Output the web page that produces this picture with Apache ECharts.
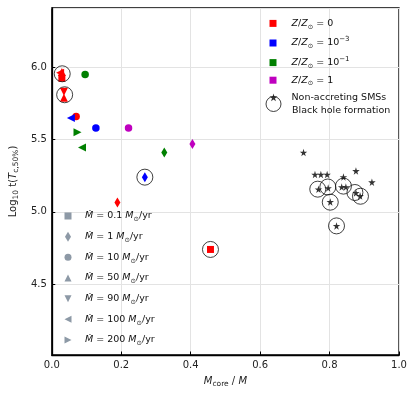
<!DOCTYPE html>
<html>
<head>
<meta charset="utf-8">
<script src="https://cdn.jsdelivr.net/npm/echarts@6/dist/echarts.min.js"></script>
<style>html,body{margin:0;padding:0;background:#fff}#c{width:415px;height:397px}</style>
</head>
<body>
<div id="c"></div>
<script>
// ---- data ----
// each point: [Mcore/M, log10 t, accretion-rate index]
const mdotLabels = ['0.1', '1', '10', '50', '90', '100', '200'];
const zLabels = ['0', '10⁻³', '10⁻¹', '1'];
const zeroMetal = [[0.457, 4.74, 0], [0.029, 5.924, 0], [0.189, 5.064, 1], [0.070, 5.66, 2],
                   [0.029, 5.968, 3], [0.035, 5.79, 3], [0.035, 5.83, 4], [0.024, 5.962, 5]];
const lowMetal = [[0.268, 5.24, 1], [0.127, 5.58, 2], [0.055, 5.65, 5]];
const midMetal = [[0.324, 5.41, 1], [0.096, 5.95, 2], [0.087, 5.445, 5], [0.074, 5.55, 6]];
const solarMetal = [[0.405, 5.47, 1], [0.221, 5.58, 2]];
const nonAccreting = [[0.725, 5.41], [0.758, 5.258], [0.775, 5.258], [0.793, 5.258], [0.840, 5.241],
                      [0.876, 5.283], [0.922, 5.205], [0.768, 5.156], [0.796, 5.165], [0.835, 5.172],
                      [0.847, 5.172], [0.876, 5.131], [0.888, 5.11], [0.802, 5.069], [0.820, 4.903]];
const bhFormation = [[0.030, 5.955], [0.037, 5.81], [0.268, 5.24], [0.457, 4.74], [0.766, 5.157],
                     [0.795, 5.172], [0.840, 5.178], [0.873, 5.134], [0.889, 5.108], [0.802, 5.067],
                     [0.820, 4.903]];
const xTicks = [0, 0.2, 0.4, 0.6, 0.8, 1.0];

// ---- styles ----
const FONT = 'DejaVu Sans';
const zColors = ['#ff0000', '#0000ff', '#008000', '#bf00bf'];
const legendGray = '#708090';
const SQ = 'path://M0,0L1,0L1,1L0,1Z';
const DIA = 'path://M3,0L6,5L3,10L0,5Z';
const UP = 'path://M1,0L2,2L0,2Z';
const DOWN = 'path://M0,0L2,0L1,2Z';
const LEFT = 'path://M0,1L2,0L2,2Z';
const RIGHT = 'path://M0,0L2,1L0,2Z';
const STAR = 'path://M50,0L61,35L98,35L68,57L79,91L50,70L21,91L32,57L2,35L39,35Z';
const mdotSymbols = [SQ, DIA, 'circle', UP, DOWN, LEFT, RIGHT];
const mdotSizes = [7, [6, 10], 7.5, 8, 8, 8, 8];

const chart = echarts.init(document.getElementById('c'), null, {renderer: 'canvas'});

const richBase = {
  n: {fontFamily: FONT, fontSize: 9.5, color: '#111', lineHeight: 14},
  i: {fontFamily: FONT, fontSize: 9.5, fontStyle: 'italic', color: '#111', lineHeight: 14},
  s: {fontFamily: FONT, fontSize: 6.5, color: '#111', lineHeight: 8, verticalAlign: 'bottom'},
  p: {fontFamily: FONT, fontSize: 7, color: '#111', lineHeight: 8, verticalAlign: 'top'}
};

const zSeriesData = [zeroMetal, lowMetal, midMetal, solarMetal];
const series = [];
zSeriesData.forEach((arr, k) => {
  series.push({
    type: 'scatter', name: 'z' + k, data: arr,
    symbol: v => mdotSymbols[v[2]],
    symbolSize: v => mdotSizes[v[2]],
    itemStyle: {color: zColors[k], opacity: 1},
    z: 3
  });
});
series.push({
  type: 'scatter', name: 'stars', data: nonAccreting, symbol: STAR, symbolSize: 7.5,
  itemStyle: {color: '#000'}, z: 2
});
series.push({
  type: 'scatter', name: 'bh', data: bhFormation, symbol: 'circle', symbolSize: 16,
  itemStyle: {color: 'rgba(0,0,0,0)', borderColor: '#111', borderWidth: 1}, z: 4
});
mdotLabels.forEach((m, k) => {
  series.push({type: 'scatter', name: 'm' + k, data: [], symbol: mdotSymbols[k], itemStyle: {color: legendGray}});
});

const zNames = zLabels.map((z, k) => 'z' + k);
function zText(k) {
  const z = zLabels[k];
  if (z.startsWith('10')) {
    const ex = z.slice(2).replace('⁻³', '−3').replace('⁻¹', '−1');
    return '{i|Z}{n|/}{i|Z}{s|⊙}{n| = 10}{p|' + ex + '}';
  }
  return '{i|Z}{n|/}{i|Z}{s|⊙}{n| = ' + z + '}';
}

const option = {
  animation: false,
  backgroundColor: '#fff',
  grid: {left: 49, right: 16, top: 8, bottom: 42, show: true, borderColor: '#000', borderWidth: 1.3},
  xAxis: {
    type: 'value', min: 0, max: 1, interval: 0.2,
    axisLine: {lineStyle: {color: '#000', width: 1.3}},
    axisTick: {inside: true, length: 3.5, lineStyle: {color: '#000'}},
    axisLabel: {fontFamily: FONT, fontSize: 10, color: '#222', margin: 5,
      formatter: v => xTicks.includes(+v.toFixed(1)) ? v.toFixed(1) : ''},
    splitLine: {show: true, lineStyle: {color: '#e3e3e3', width: 1}},
    name: '{i|M}{s|core}{n| / }{i|M}',
    nameLocation: 'middle', nameGap: 19,
    nameTextStyle: {rich: {
      n: {fontFamily: FONT, fontSize: 10, color: '#222', lineHeight: 14},
      i: {fontFamily: FONT, fontSize: 10, fontStyle: 'italic', color: '#222', lineHeight: 14},
      s: {fontFamily: FONT, fontSize: 7.5, color: '#222', lineHeight: 10, verticalAlign: 'bottom'}
    }}
  },
  yAxis: {
    type: 'value', min: 4.01, max: 6.41, splitNumber: 5,
    axisLine: {lineStyle: {color: '#000', width: 1.3}},
    axisTick: {inside: true, length: 3.5, lineStyle: {color: '#000'}},
    axisLabel: {fontFamily: FONT, fontSize: 10, color: '#222', margin: 5, showMinLabel: false, showMaxLabel: false,
      formatter: v => v.toFixed(1)},
    splitLine: {show: true, lineStyle: {color: '#e3e3e3', width: 1}},
    name: '{n|Log}{s|10}{n| t(}{i|T}{s|c,50%}{n|)}',
    nameLocation: 'middle', nameGap: 28, nameRotate: 90,
    nameTextStyle: {rich: {
      n: {fontFamily: FONT, fontSize: 10, color: '#222', lineHeight: 14},
      i: {fontFamily: FONT, fontSize: 10, fontStyle: 'italic', color: '#222', lineHeight: 14},
      s: {fontFamily: FONT, fontSize: 7.5, color: '#222', lineHeight: 10, verticalAlign: 'bottom'}
    }}
  },
  legend: [
    {
      orient: 'vertical', left: 269.5, top: 18.4, padding: 0, itemWidth: 7, itemHeight: 7, itemGap: 5.6,
      selectedMode: false, icon: 'rect',
      data: zNames,
      formatter: name => zText(+name.slice(1)),
      textStyle: {padding: [0, 0, 0, 10], rich: richBase}
    },
    {
      orient: 'vertical', left: 269.5, top: 92.4, padding: 0, itemWidth: 8, itemHeight: 8, itemGap: 5,
      selectedMode: false,
      data: [{name: 'stars', icon: STAR}],
      formatter: () => '{n|Non-accreting SMSs}',
      textStyle: {padding: [0, 0, 0, 9], rich: richBase}
    },
    {
      orient: 'vertical', left: 265.5, top: 96, padding: 0, itemWidth: 15, itemHeight: 15, itemGap: 5,
      selectedMode: false,
      data: [{name: 'bh', icon: 'circle', itemStyle: {color: 'rgba(0,0,0,0)', borderColor: '#111', borderWidth: 1}}],
      formatter: () => '{n|Black hole formation}',
      textStyle: {padding: [14, 0, 0, 6], rich: richBase}
    },
    {
      orient: 'vertical', left: 64.5, top: 211, padding: 0, itemWidth: 7, itemHeight: 10, itemGap: 8.67,
      selectedMode: false, symbolKeepAspect: true,
      data: mdotLabels.map((m, k) => ({name: 'm' + k, icon: k === 2 ? 'circle' : mdotSymbols[k]})),
      formatter: name => '{i|Ṁ}{n| = ' + mdotLabels[+name.slice(1)] + ' }{i|M}{s|⊙}{n|/yr}',
      textStyle: {padding: [0, 0, 0, 8.5], rich: richBase}
    }
  ],
  series: series
};
chart.setOption(option);
</script>
</body>
</html>
